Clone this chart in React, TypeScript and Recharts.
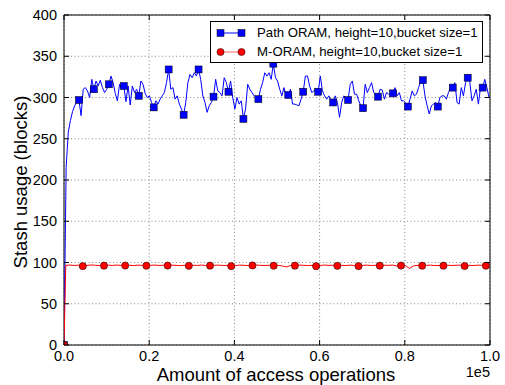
import { CartesianGrid, Label, Legend, Line, LineChart, ReferenceArea, XAxis, YAxis } from 'recharts';

// Path ORAM stash size, sampled evenly over the run (x in units of 1e5 accesses)
const pathOramStash = [
  0, 215, 258, 272, 283, 290, 295, 297, 278, 310,
  312, 308, 300, 322, 310, 320, 314, 321, 312, 306,
  310, 316, 326, 318, 305, 296, 316, 310, 314, 295,
  314, 291, 314, 306, 310, 302, 320, 316, 305, 300,
  302, 294, 288, 296, 292, 298, 302, 306, 318, 334,
  310, 312, 298, 302, 292, 286, 279, 294, 318, 328,
  324, 330, 326, 334, 322, 302, 294, 282, 290, 294,
  301, 322, 308, 306, 302, 324, 318, 307, 320, 300,
  286, 300, 292, 296, 274, 286, 316, 310, 306, 302,
  300, 298, 310, 318, 330, 326, 330, 322, 341, 324,
  320, 310, 302, 312, 300, 303, 310, 292, 292, 291,
  290, 298, 307, 326, 326, 314, 306, 308, 310, 307,
  326, 308, 302, 298, 302, 296, 294, 302, 294, 276,
  294, 302, 298, 297, 316, 320, 304, 304, 296, 290,
  287, 316, 306, 312, 318, 306, 304, 301, 310, 309,
  298, 306, 304, 302, 305, 312, 302, 306, 296, 296,
  293, 289, 298, 308, 302, 304, 312, 320, 321, 302,
  290, 280, 290, 292, 294, 289, 300, 302, 302, 298,
  306, 312, 312, 318, 294, 292, 312, 302, 318, 324,
  318, 296, 302, 310, 292, 312, 312, 322, 312, 300,
];

// M-ORAM stash size; first entry is the origin
const mOramStash = [
  0,
  96.6, 96.9, 96.4, 96.8, 95.6, 96.5, 97.0, 96.6, 96.3, 96.2,
  96.8, 96.4, 96.9, 96.5, 96.3, 96.7, 96.2, 96.8, 96.5, 96.1,
  96.6, 96.9, 96.4, 96.7, 96.3, 96.8, 96.5, 96.2, 96.6, 96.0,
  96.7, 96.4, 96.9, 96.3, 96.2, 96.6, 96.8, 96.4, 96.5, 95.6,
  96.3, 96.8, 96.6, 96.2, 96.4, 96.9, 96.5, 96.3, 96.7, 96.1,
  96.5, 95.8, 94.6, 96.4, 96.2, 96.8, 96.6, 96.3, 96.5, 95.5,
  96.4, 96.9, 96.5, 96.7, 96.0, 96.6, 96.3, 96.8, 96.4, 95.6,
  96.5, 96.8, 96.4, 96.6, 96.2, 96.7, 96.5, 96.9, 95.8, 96.3,
  96.4, 92.8, 96.0, 96.6, 96.1, 96.5, 96.8, 96.3, 96.4, 96.2,
  96.7, 96.4, 96.6, 96.8, 95.7, 96.5, 96.3, 96.8, 96.6, 96.1,
  96.4,
];

const xTicks = [0, 0.2, 0.4, 0.6, 0.8, 1.0];
const yTicks = [0, 50, 100, 150, 200, 250, 300, 350, 400];

const PATH_STEP = 0.005014;
const PATH_MARK_EVERY = 7;
const M_START = 0.0042;
const M_STEP = 0.00996;
const M_MARK_EVERY = 5;

const pathData = pathOramStash.map((v, i) => ({ x: i * PATH_STEP, stash: v }));
const mData = mOramStash.map((v, i) => ({ x: i === 0 ? 0 : M_START + (i - 1) * M_STEP, stash: v }));

const W = 505;
const H = 385;
const PLOT_LEFT = 64;
const PLOT_RIGHT = 490;
const PLOT_TOP = 15;
const PLOT_BOTTOM = 345;
const FONT = '"Liberation Sans", Arial, sans-serif';
const BLUE = '#0000ff';
const RED = '#ff0000';

const YTick = ({ y, payload }: any) => (
  <g>
    <line x1={PLOT_LEFT} x2={PLOT_LEFT + 5} y1={y} y2={y} stroke="#000" />
    <line x1={PLOT_RIGHT - 5} x2={PLOT_RIGHT} y1={y} y2={y} stroke="#000" />
    <text x={PLOT_LEFT - 7} y={y + 5} textAnchor="end" fontSize={14.5} fontFamily={FONT} fill="#000">
      {payload.value}
    </text>
  </g>
);

const XTick = ({ x, payload }: any) => (
  <g>
    <line x1={x} x2={x} y1={PLOT_BOTTOM} y2={PLOT_BOTTOM - 5} stroke="#000" />
    <line x1={x} x2={x} y1={PLOT_TOP} y2={PLOT_TOP + 5} stroke="#000" />
    <text x={x} y={PLOT_BOTTOM + 15.5} textAnchor="middle" fontSize={14.5} fontFamily={FONT} fill="#000">
      {Number(payload.value).toFixed(1)}
    </text>
  </g>
);

const squareDot = (props: any) => {
  const { cx, cy, index } = props;
  if (index % PATH_MARK_EVERY !== 0 || cx == null) return <g key={`p${index}`} />;
  return (
    <rect key={`p${index}`} x={cx - 3.5} y={cy - 3.5} width={7} height={7}
      fill={BLUE} stroke="#000" strokeWidth={0.5} />
  );
};

const circleDot = (props: any) => {
  const { cx, cy, index } = props;
  const marked = index === 0 || (index - 1) % M_MARK_EVERY === M_MARK_EVERY - 1;
  if (!marked || cx == null) return <g key={`m${index}`} />;
  return <circle key={`m${index}`} cx={cx} cy={cy} r={3.6} fill={RED} stroke="#000" strokeWidth={0.5} />;
};

const legendItems = [
  { name: 'Path ORAM, height=10,bucket size=1', color: BLUE, shape: 'square' },
  { name: 'M-ORAM, height=10,bucket size=1', color: RED, shape: 'circle' },
];

const renderLegend = () => (
  <div
    style={{
      width: 273,
      height: 42,
      boxSizing: 'border-box',
      border: '1.5px solid #000',
      background: '#fff',
      paddingTop: 1,
      fontFamily: FONT,
      fontSize: 13.2,
      color: '#000',
    }}
  >
    {legendItems.map((item) => (
      <div key={item.name} style={{ display: 'flex', alignItems: 'center', height: 19 }}>
        <svg width={44} height={10} style={{ marginLeft: 2 }}>
          <line x1={7.5} x2={28.5} y1={5} y2={5} stroke={item.color} strokeWidth={1} opacity={item.shape === 'circle' ? 0.6 : 1} />
          {[7.5, 28.5].map((cx) =>
            item.shape === 'square' ? (
              <rect key={cx} x={cx - 3.5} y={1.5} width={7} height={7} fill={item.color} stroke="#000" strokeWidth={0.5} />
            ) : (
              <circle key={cx} cx={cx} cy={5} r={3.6} fill={item.color} stroke="#000" strokeWidth={0.5} />
            ),
          )}
        </svg>
        <span style={{ whiteSpace: 'nowrap' }}>{item.name}</span>
      </div>
    ))}
  </div>
);

export default function App() {
  return (
    <div style={{ position: 'absolute', left: 0, top: 0, width: W, height: H, background: '#fff' }}>
      <LineChart
        width={W}
        height={H}
        margin={{ top: PLOT_TOP, right: W - PLOT_RIGHT, bottom: 0, left: 0 }}
      >
        <CartesianGrid stroke="#888" strokeDasharray="1 2.5" />
        <XAxis
          dataKey="x"
          type="number"
          domain={[0, 1]}
          ticks={xTicks}
          allowDataOverflow
          axisLine={false}
          tickLine={false}
          tick={<XTick />}
          height={H - PLOT_BOTTOM}
          interval={0}
        >
          <Label
            content={() => (
              <g>
                <text x={(PLOT_LEFT + PLOT_RIGHT) / 2 - 1} y={380.5} textAnchor="middle" fontSize={18.5} fontFamily={FONT} fill="#000">
                  Amount of access operations
                </text>
                <text x={PLOT_RIGHT} y={377} textAnchor="end" fontSize={14.5} fontFamily={FONT} fill="#000">
                  1e5
                </text>
              </g>
            )}
          />
        </XAxis>
        <YAxis
          type="number"
          domain={[0, 400]}
          ticks={yTicks}
          allowDataOverflow
          axisLine={false}
          tickLine={false}
          tick={<YTick />}
          width={PLOT_LEFT}
          interval={0}
        >
          <Label
            content={() => (
              <text
                transform={`translate(20, ${(PLOT_TOP + PLOT_BOTTOM) / 2 + 2}) rotate(-90)`}
                textAnchor="middle"
                dominantBaseline="central"
                fontSize={18.5}
                fontFamily={FONT}
                fill="#000"
              >
                Stash usage (blocks)
              </text>
            )}
          />
        </YAxis>
        <Line
          data={pathData}
          dataKey="stash"
          name="Path ORAM, height=10,bucket size=1"
          stroke={BLUE}
          strokeWidth={1}
          dot={squareDot}
          activeDot={false}
          isAnimationActive={false}
        />
        <Line
          data={mData}
          dataKey="stash"
          name="M-ORAM, height=10,bucket size=1"
          stroke={RED}
          strokeWidth={1}
          dot={circleDot}
          activeDot={false}
          isAnimationActive={false}
        />
        <ReferenceArea x1={0} x2={1} y1={0} y2={400} fill="none" stroke="#000" strokeWidth={1} ifOverflow="visible" />
        <Legend
          layout="vertical"
          align="center"
          verticalAlign="middle"
          content={renderLegend}
          wrapperStyle={{ left: 210, top: 21, width: 273 }}
        />
      </LineChart>
    </div>
  );
}
